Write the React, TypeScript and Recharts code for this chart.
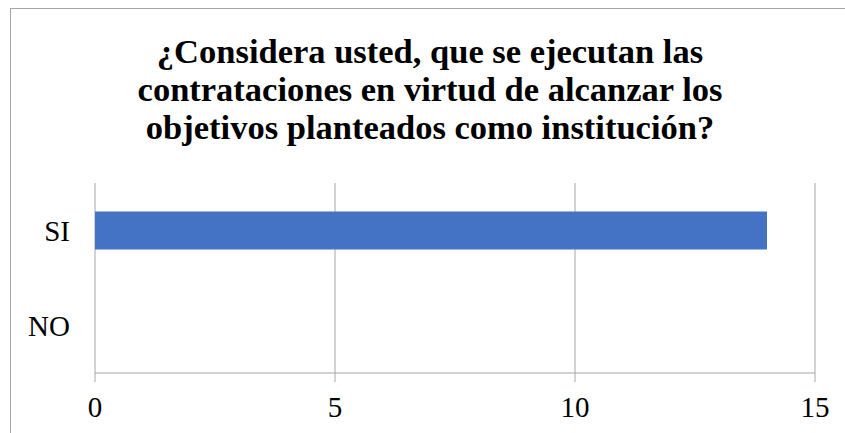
import React from "react";
import { BarChart, Bar, XAxis, YAxis, CartesianGrid } from "recharts";

const categories = ["SI", "NO"];
const values = [14, 0];
const xTicks = [0, 5, 10, 15];
const frameTicks = [0, 1, 2];
const titleLines = [
  "¿Considera usted, que se ejecutan las",
  "contrataciones en virtud de alcanzar los",
  "objetivos planteados como institución?",
];

const data = categories.map((c, i) => ({ name: c, value: values[i] }));

const GRAY = "#A6A6A6";
const FONT = "Liberation Serif";

export default function App() {
  return (
    <div
      style={{
        position: "fixed",
        left: 0,
        top: 0,
        width: 845,
        height: 433,
        overflow: "hidden",
        background: "#fff",
      }}
    >
      <div
        style={{
          position: "absolute",
          left: 10,
          top: 8,
          width: 860,
          height: 460,
          border: `1px solid ${GRAY}`,
          boxSizing: "border-box",
        }}
      />
      <div
        style={{
          position: "absolute",
          left: 10,
          top: 32,
          width: 840,
          textAlign: "center",
          fontFamily: FONT,
          fontWeight: "bold",
          fontSize: 34.5,
          lineHeight: "38px",
          color: "#000",
        }}
      >
        {titleLines.map((l, i) => (
          <div key={i} style={{ whiteSpace: "nowrap" }}>{l}</div>
        ))}
      </div>
      <div style={{ position: "absolute", left: 0, top: 0 }}>
        <BarChart
          width={845}
          height={433}
          data={data}
          layout="vertical"
          margin={{ top: 183, right: 30, bottom: 0, left: 15 }}
          barCategoryGap="30%"
        >
          <CartesianGrid horizontal={false} stroke={GRAY} strokeWidth={1} />
          <YAxis
            yAxisId="frame"
            type="number"
            domain={[0, 2]}
            ticks={frameTicks}
            width={0}
            orientation="left"
            axisLine={{ stroke: GRAY, strokeWidth: 1 }}
            tickLine={{ stroke: GRAY, strokeWidth: 1 }}
            tickSize={8}
            tickFormatter={() => ""}
          />
          <YAxis
            type="category"
            dataKey="name"
            width={80}
            axisLine={false}
            tickLine={false}
            tickSize={0}
            tickMargin={25}
            tick={{ fill: "#000", fontSize: 29, fontFamily: FONT }}
          />
          <XAxis
            type="number"
            domain={[0, 15]}
            ticks={xTicks}
            height={60}
            axisLine={{ stroke: GRAY, strokeWidth: 1 }}
            tickLine={{ stroke: GRAY, strokeWidth: 1 }}
            tickSize={9}
            tickMargin={14}
            tick={{ fill: "#000", fontSize: 29, fontFamily: FONT }}
          />
          <Bar dataKey="value" fill="#4472C4" isAnimationActive={false} />
        </BarChart>
      </div>
    </div>
  );
}
